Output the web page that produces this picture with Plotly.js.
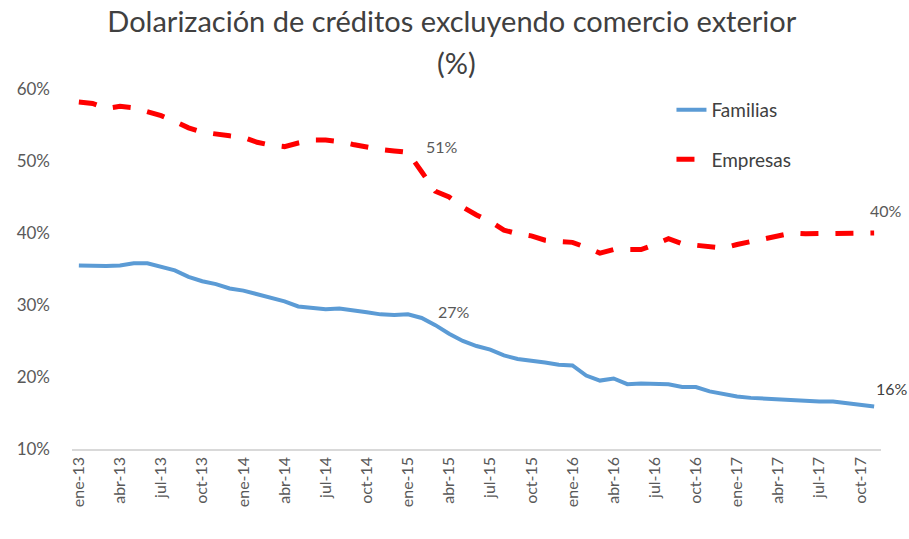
<!DOCTYPE html>
<html>
<head>
<meta charset="utf-8">
<script src="https://cdn.plot.ly/plotly-3.0.1.min.js"></script>
<style>html,body{margin:0;padding:0;background:#fff;}#chart{width:909px;height:539px;}</style>
</head>
<body>
<div id="chart"></div>
<script>
const months = [
  "ene-13","feb-13","mar-13","abr-13","may-13","jun-13","jul-13","ago-13","sep-13","oct-13","nov-13","dic-13",
  "ene-14","feb-14","mar-14","abr-14","may-14","jun-14","jul-14","ago-14","sep-14","oct-14","nov-14","dic-14",
  "ene-15","feb-15","mar-15","abr-15","may-15","jun-15","jul-15","ago-15","sep-15","oct-15","nov-15","dic-15",
  "ene-16","feb-16","mar-16","abr-16","may-16","jun-16","jul-16","ago-16","sep-16","oct-16","nov-16","dic-16",
  "ene-17","feb-17","mar-17","abr-17","may-17","jun-17","jul-17","ago-17","sep-17","oct-17","nov-17"
];
const familias = [
  35.5,35.4,35.4,35.5,35.8,35.8,35.3,34.8,33.9,33.3,32.9,32.3,
  32.0,31.5,31.0,30.5,29.8,29.6,29.4,29.5,29.3,29.0,28.7,28.6,
  28.7,28.2,27.2,26.0,25.0,24.3,23.8,23.0,22.5,22.3,22.0,21.7,
  21.6,20.2,19.5,19.8,19.0,19.1,19.1,19.0,18.6,18.6,18.0,17.6,
  17.3,17.1,17.0,16.9,16.7,16.6,16.6,16.6,16.4,16.2,15.9
];
const empresas = [
  58.2,58.0,57.3,57.6,57.4,56.8,56.3,55.5,54.6,54.0,53.7,53.5,
  53.3,52.6,52.2,52.0,52.5,52.9,52.9,52.7,52.3,51.9,51.6,51.4,
  51.2,48.5,45.8,45.0,43.6,42.5,41.6,40.4,39.9,39.6,39.0,38.8,
  38.7,38.0,37.2,37.7,37.7,37.7,38.4,39.2,38.5,38.3,38.2,37.9,
  38.4,38.8,39.3,39.7,40.0,39.9,39.9,40.0,40.0,40.0,40.0
];
const tickLabels = ["ene-13","abr-13","jul-13","oct-13","ene-14","abr-14","jul-14","oct-14","ene-15","abr-15","jul-15","oct-15","ene-16","abr-16","jul-16","oct-16","ene-17","abr-17","jul-17","oct-17"];
const yTicks = [10,20,30,40,50,60];
const titleText = "Dolarización de créditos excluyendo comercio exterior";
const subtitleText = "(%)";
// labelled points (indices)
const labelFam = [26, 58];
const labelEmp = [24, 58];

const FONT = "Lato, 'Open Sans', sans-serif";
const GRAY = "#595959";

const traces = [
  {x: months, y: familias, type: "scatter", mode: "lines", name: "Familias",
   line: {color: "#5b9bd5", width: 4}, legendgroup: "f"},
  {x: months, y: empresas, type: "scatter", mode: "lines", name: "Empresas",
   line: {color: "#ff0000", width: 5, dash: "18px,17px"}, legendgroup: "e"}
];

const ann = [];
ann.push({xref: "paper", yref: "paper", x: 0.475, y: 1.075, xanchor: "center", yanchor: "middle",
  text: subtitleText, showarrow: false, font: {family: FONT, size: 29, color: "#404040"}});
const lab = (series, i, xs, ys, col) => ({
  xref: "x", yref: "y", x: months[i], y: series[i], text: Math.round(series[i]) + "%",
  showarrow: false, xanchor: "left", yanchor: "middle", xshift: xs, yshift: ys,
  font: {family: FONT, size: 16, color: col || GRAY}
});
ann.push(lab(empresas, labelEmp[0], 16, 6));
ann.push(lab(empresas, labelEmp[1], -6, 23));
ann.push(lab(familias, labelFam[0], 1, 14));
ann.push(lab(familias, labelFam[1], 0, 18, "#404040"));

const layout = {
  width: 909, height: 539,
  margin: {l: 72, r: 28, t: 89, b: 90},
  paper_bgcolor: "#fff", plot_bgcolor: "#fff",
  font: {family: FONT, color: GRAY},
  title: {text: titleText, x: 0.497, xanchor: "center", xref: "container",
          y: 1 - 22/539, yanchor: "middle", yref: "container",
          font: {family: FONT, size: 29, color: "#404040"}},
  showlegend: true,
  legend: {x: 0.741, y: 0.995, xanchor: "left", yanchor: "top", bgcolor: "rgba(0,0,0,0)",
           font: {family: FONT, size: 19, color: "#404040"}, tracegroupgap: 22, itemwidth: 30},
  xaxis: {type: "category", range: [-0.5, 58.5], tickmode: "array", tickvals: tickLabels, ticktext: tickLabels,
          tickangle: -90, showgrid: false, zeroline: false, showline: true, linecolor: "#d9d9d9", linewidth: 1.5,
          ticks: "", tickfont: {family: FONT, size: 16, color: GRAY}, fixedrange: true},
  yaxis: {range: [10, 60], tickmode: "array", tickvals: yTicks, ticktext: yTicks.map(v => v + "%"),
          showgrid: false, zeroline: false, showline: false, ticks: "", ticklabelstandoff: 21,
          tickfont: {family: FONT, size: 17, color: GRAY}, fixedrange: true},
  annotations: ann
};

Plotly.newPlot("chart", traces, layout, {displayModeBar: false, staticPlot: true});
</script>
</body>
</html>
